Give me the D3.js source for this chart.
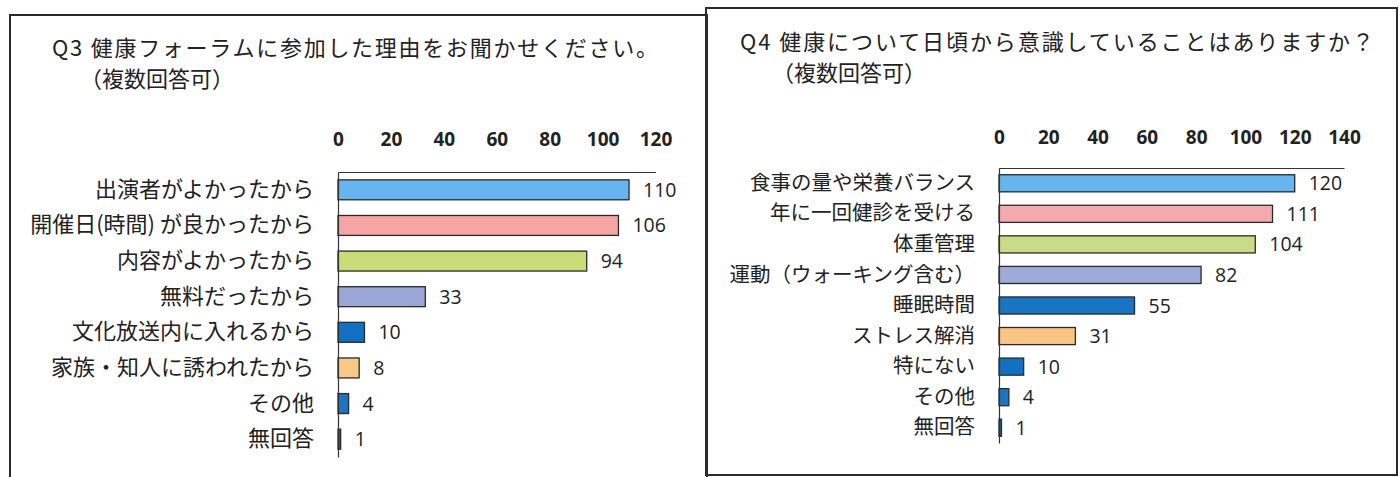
<!DOCTYPE html>
<meta charset="utf-8">
<style>
body { margin: 0; background: #fff; }
.panel { fill: none; stroke: #2b2b2b; stroke-width: 2px; }
.title { font-family: "Noto Sans CJK JP"; font-size: 22px; fill: #222; }
.axis path { stroke: #333; stroke-width: 1.2px; }
.tickx text { font-family: "Open Sans"; font-weight: bold; font-size: 19px; fill: #222; }
.cat text { font-family: "Noto Sans CJK JP"; fill: #222; }
.val { font-family: "Open Sans"; font-size: 19.5px; fill: #222; }
.bar { stroke: #2a2a2a; stroke-width: 1.3px; }
</style>
<body>
<script src="https://d3js.org/d3.v7.min.js"></script>
<script>
// Q3 data
var q3Categories = ["出演者がよかったから", "開催日(時間) が良かったから", "内容がよかったから", "無料だったから",
    "文化放送内に入れるから", "家族・知人に誘われたから", "その他", "無回答"];
var q3Values = [110, 106, 94, 33, 10, 8, 4, 1];
var q3Ticks = [0, 20, 40, 60, 80, 100, 120];

// Q4 data
var q4Categories = ["食事の量や栄養バランス", "年に一回健診を受ける", "体重管理", "運動（ウォーキング含む）",
    "睡眠時間", "ストレス解消", "特にない", "その他", "無回答"];
var q4Values = [120, 111, 104, 82, 55, 31, 10, 4, 1];
var q4Ticks = [0, 20, 40, 60, 80, 100, 120, 140];

// bar colours, one per row
var q3Colors = ["#66b5ee", "#f4a5a4", "#c8dc78", "#9aa6d6", "#1170c2", "#f8c988", "#1a75c4", "#1f5f9c"];
var q4Colors = ["#66b5ee", "#f4a9ae", "#c8dc88", "#9eaad8", "#1a74c4", "#f8c585", "#1170c2", "#1a75c4", "#1f5f9c"];

var svg = d3.select("body").append("svg")
    .attr("width", 1400)
    .attr("height", 477);

// panel frames
svg.append("rect").attr("class", "panel")
    .attr("x", 10).attr("y", 15).attr("width", 697).attr("height", 480);
svg.append("rect").attr("class", "panel")
    .attr("x", 706).attr("y", 8).attr("width", 691).attr("height", 467);

function drawChart(opt) {
    var x = d3.scaleLinear().domain(opt.domain).range(opt.xRange);
    var y = d3.scaleBand().domain(opt.cats).range(opt.yRange).paddingInner(0.44).paddingOuter(0.22);

    // titles
    svg.append("text").attr("class", "title")
        .attr("x", opt.t1[0]).attr("y", opt.t1[1])
        .attr("textLength", opt.t1[2]).attr("lengthAdjust", "spacing")
        .text(opt.title1);
    svg.append("text").attr("class", "title")
        .attr("x", opt.t2[0]).attr("y", opt.t2[1])
        .text(opt.title2);

    // top axis with tick numbers
    svg.append("g")
        .attr("class", "axis tickx")
        .attr("transform", "translate(0," + opt.yRange[0] + ")")
        .call(d3.axisTop(x).tickValues(opt.ticks).tickSize(0).tickSizeOuter(0).tickPadding(opt.tickPad));

    // bars
    svg.append("g").selectAll("rect")
        .data(opt.vals)
        .enter().append("rect")
        .attr("class", "bar")
        .attr("x", x(0))
        .attr("y", function(d, i) { return y(opt.cats[i]); })
        .attr("width", function(d) { return x(d) - x(0); })
        .attr("height", y.bandwidth())
        .style("fill", function(d, i) { return opt.colors[i]; });

    // value labels
    svg.append("g").selectAll("text")
        .data(opt.vals)
        .enter().append("text")
        .attr("class", "val")
        .attr("x", function(d) { return x(d) + 14; })
        .attr("y", function(d, i) { return y(opt.cats[i]) + y.bandwidth() / 2; })
        .attr("dy", "0.36em")
        .text(function(d) { return d; });

    // left category axis
    svg.append("g")
        .attr("class", "axis cat")
        .attr("transform", "translate(" + x(0) + ",0)")
        .call(d3.axisLeft(y).tickSize(0).tickSizeOuter(0).tickPadding(opt.catPad))
        .selectAll("text").style("font-size", opt.catSize + "px");
}

drawChart({
    cats: q3Categories, vals: q3Values, ticks: q3Ticks, colors: q3Colors,
    domain: [0, 120], xRange: [338, 655.5], yRange: [172, 457],
    tickPad: 26, catPad: 24, catSize: 22,
    title1: "Q3 健康フォーラムに参加した理由をお聞かせください。", t1: [52, 56, 606],
    title2: "（複数回答可）", t2: [80, 87]
});

drawChart({
    cats: q4Categories, vals: q4Values, ticks: q4Ticks, colors: q4Colors,
    domain: [0, 140], xRange: [999, 1344], yRange: [168, 443],
    tickPad: 24, catPad: 24, catSize: 20.5,
    title1: "Q4 健康について日頃から意識していることはありますか？", t1: [740, 50, 634],
    title2: "（複数回答可）", t2: [772, 81]
});
</script>
</body>
